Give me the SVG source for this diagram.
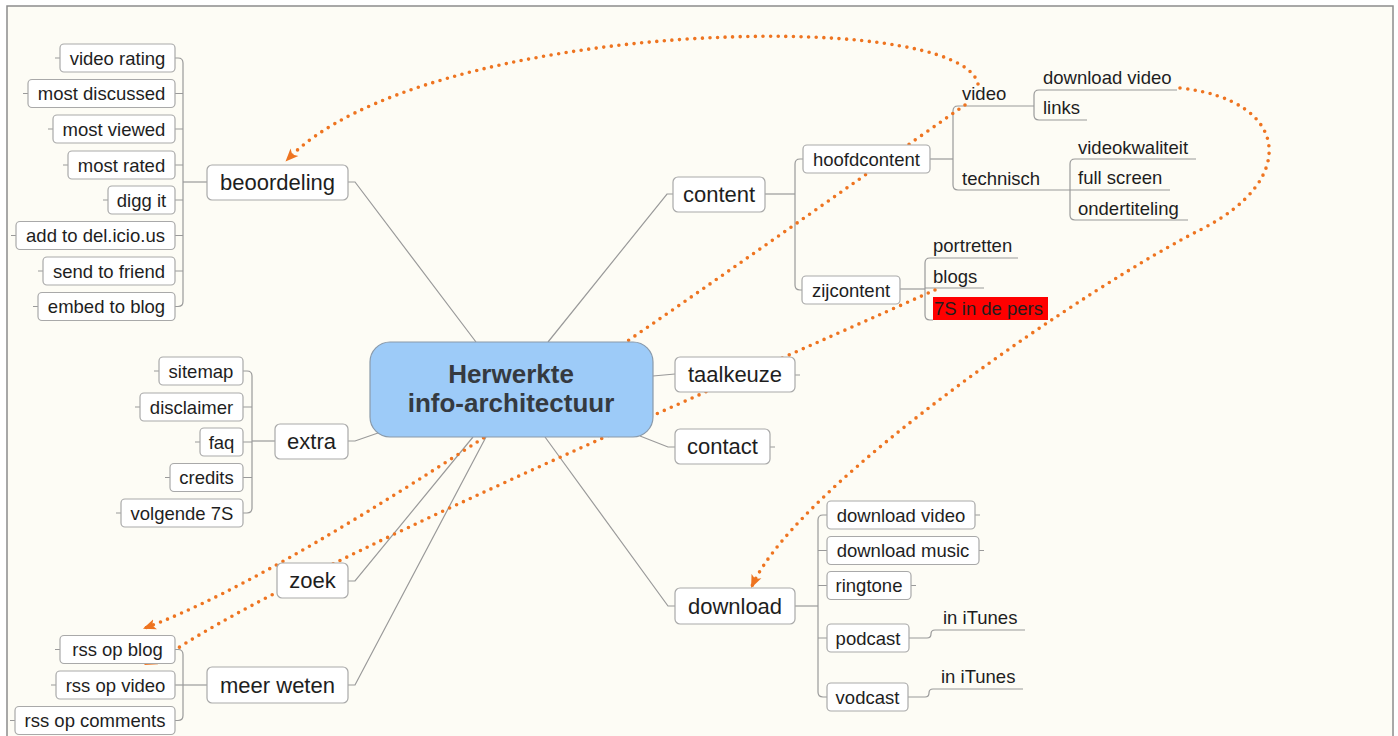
<svg xmlns="http://www.w3.org/2000/svg" width="1398" height="736" viewBox="0 0 1398 736">
<style>
.t{font-family:"Liberation Sans",Arial,sans-serif;fill:#1e1e1e}
.m{font-size:22px;text-anchor:middle}
.s{font-size:18.5px;text-anchor:middle}
.l{font-size:18.5px}
.box{fill:#fff;stroke:#a9a9a9;stroke-width:1.2}
.c{fill:none;stroke:#9a9a9a;stroke-width:1.2}
.r{fill:none;stroke:#ee7420;stroke-width:3.6;stroke-dasharray:0 7.6;stroke-linecap:round}
</style>
<defs>
<marker id="ah" viewBox="0 0 12 12" refX="10" refY="6" markerWidth="13" markerHeight="13" markerUnits="userSpaceOnUse" orient="auto">
<path d="M0,1 L12,6 L0,11 L3,6 z" fill="#ee7420"/>
</marker>
</defs>
<rect x="0" y="0" width="1398" height="736" fill="#ffffff"/>
<rect x="7" y="6" width="1386" height="745" fill="#fdfcf5" stroke="#8c8c8c" stroke-width="1.5"/>

<g id="connectors">
<!-- central branches -->
<path class="c" d="M348,182 H355 L476,342"/>
<path class="c" d="M673,194 H667 L548,342"/>
<path class="c" d="M653,376 L675,374"/>
<path class="c" d="M640,436 L668,447 H675"/>
<path class="c" d="M545,437 L668,606 H675"/>
<path class="c" d="M378,433 L355,441 H348"/>
<path class="c" d="M473,437 L355,581 H348"/>
<path class="c" d="M486,437 L355,685 H348"/>
<!-- beoordeling children -->
<path class="c" d="M207,182 H183"/>
<path class="c" d="M175,58 H178 Q183,58 183,63 V301.5 Q183,306.5 178,306.5 H175"/>
<path class="c" d="M175,93.5 H183 M175,129 H183 M175,165 H183 M175,200 H183 M175,235.5 H183 M175,271 H183"/>
<!-- extra children -->
<path class="c" d="M275,441 H252"/>
<path class="c" d="M243,371 H247 Q252,371 252,376 V508 Q252,513 247,513 H243"/>
<path class="c" d="M243,407 H252 M243,442 H252 M243,477.5 H252"/>
<!-- meer weten children -->
<path class="c" d="M207,685 H183"/>
<path class="c" d="M175,649.5 H178 Q183,649.5 183,654.5 V715.5 Q183,720.5 178,720.5 H175"/>
<path class="c" d="M175,685 H183"/>
<!-- left stubs on sub nodes -->
<path class="c" d="M55,58 H60 M23,93.5 H28 M48,129 H53 M63,165 H68 M103,200 H108 M11,235.5 H16 M38,271 H43 M33,306.5 H38"/>
<path class="c" d="M154,371 H159 M135,407 H140 M195,442 H200 M165,477.5 H170 M116,513 H121"/>
<path class="c" d="M55,649.5 H60 M51,685 H56 M10,720.5 H15"/>
<!-- right stubs -->
<path class="c" d="M795,375 H800 M770,447 H775 M975,515 H980 M979,550.5 H984 M911,585.5 H916"/>
<!-- content children -->
<path class="c" d="M765,194 H795"/>
<path class="c" d="M803,159 H800 Q795,159 795,164 V285 Q795,290 800,290 H803"/>
<!-- hoofdcontent children -->
<path class="c" d="M930,159 H953"/>
<path class="c" d="M1034,106 H958 Q953,106 953,111 V185 Q953,190 958,190 H1070"/>
<path class="c" d="M1177,90 H1039 Q1034,90 1034,95 V115 Q1034,120 1039,120 H1087"/>
<path class="c" d="M1196,159 H1075 Q1070,159 1070,164 V215 Q1070,220 1075,220 H1188"/>
<path class="c" d="M1070,190 H1170"/>
<!-- zijcontent children -->
<path class="c" d="M900,289 H925"/>
<path class="c" d="M1018,258 H930 Q925,258 925,263 V315 Q925,320 930,320 H933"/>
<path class="c" d="M925,288 H984"/>
<!-- download children -->
<path class="c" d="M795,606 H818"/>
<path class="c" d="M827,515 H823 Q818,515 818,520 V692 Q818,697 823,697 H827"/>
<path class="c" d="M818,550.5 H827 M818,585.5 H827 M818,638 H827"/>
<path class="c" d="M909,638 H927 Q931,638 931,634 Q931,630 935,630 H1025"/>
<path class="c" d="M908,697 H925 Q929,697 929,693 Q929,689 933,689 H1023"/>
<!-- relationship lines -->
<path class="r" d="M978,84 C960,5 420,20 287,160" marker-end="url(#ah)"/>
<path class="r" d="M1180,88 C1290,100 1300,180 1200,230 C1100,280 800,480 752,586" marker-end="url(#ah)"/>
<path class="r" d="M965,105 C700,290 330,560 145,628" marker-end="url(#ah)"/>
<path class="r" d="M935,290 C685,402 305,565 175,650 L146,664" marker-end="url(#ah)"/>
</g>

<g id="center">
<rect x="370" y="342" width="283" height="95" rx="20" fill="#9dcbf8" stroke="#8a9aaa" stroke-width="1.2"/>
<text class="t" x="511" y="383" font-size="26" font-weight="bold" text-anchor="middle" style="fill:#353a40">Herwerkte</text>
<text class="t" x="511" y="412" font-size="26" font-weight="bold" text-anchor="middle" style="fill:#353a40">info-architectuur</text>
</g>

<g id="beoordeling"><rect class="box" x="207" y="165" width="141" height="35" rx="5"/><text class="t m" x="277.5" y="190">beoordeling</text></g>
<g id="content"><rect class="box" x="673" y="177" width="92" height="35" rx="5"/><text class="t m" x="719" y="202">content</text></g>
<g id="taalkeuze"><rect class="box" x="675" y="357" width="120" height="35" rx="5"/><text class="t m" x="735" y="382">taalkeuze</text></g>
<g id="contact"><rect class="box" x="675" y="429" width="95" height="35" rx="5"/><text class="t m" x="722.5" y="454">contact</text></g>
<g id="download"><rect class="box" x="675" y="588" width="120" height="36" rx="5"/><text class="t m" x="735" y="614">download</text></g>
<g id="extra"><rect class="box" x="275" y="424" width="73" height="35" rx="5"/><text class="t m" x="311.5" y="449">extra</text></g>
<g id="zoek"><rect class="box" x="277" y="563" width="71" height="35" rx="5"/><text class="t m" x="312.5" y="588">zoek</text></g>
<g id="meer-weten"><rect class="box" x="207" y="667" width="141" height="36" rx="5"/><text class="t m" x="277.5" y="693">meer weten</text></g>

<g id="video-rating"><rect class="box" x="60" y="44" width="115" height="28" rx="4"/><text class="t s" x="117.5" y="64.5">video rating</text></g>
<g id="most-discussed"><rect class="box" x="28" y="79.5" width="147" height="28" rx="4"/><text class="t s" x="101.5" y="100">most discussed</text></g>
<g id="most-viewed"><rect class="box" x="53" y="115" width="122" height="28" rx="4"/><text class="t s" x="114" y="135.5">most viewed</text></g>
<g id="most-rated"><rect class="box" x="68" y="151" width="107" height="28" rx="4"/><text class="t s" x="121.5" y="171.5">most rated</text></g>
<g id="digg-it"><rect class="box" x="108" y="186" width="67" height="28" rx="4"/><text class="t s" x="141.5" y="206.5">digg it</text></g>
<g id="add-to-delicious"><rect class="box" x="16" y="221.5" width="159" height="28" rx="4"/><text class="t s" x="95.5" y="242">add to del.icio.us</text></g>
<g id="send-to-friend"><rect class="box" x="43" y="257" width="132" height="28" rx="4"/><text class="t s" x="109" y="277.5">send to friend</text></g>
<g id="embed-to-blog"><rect class="box" x="38" y="292.5" width="137" height="28" rx="4"/><text class="t s" x="106.5" y="313">embed to blog</text></g>

<g id="sitemap"><rect class="box" x="159" y="357" width="84" height="28" rx="4"/><text class="t s" x="201" y="377.5">sitemap</text></g>
<g id="disclaimer"><rect class="box" x="140" y="393" width="103" height="28" rx="4"/><text class="t s" x="191.5" y="413.5">disclaimer</text></g>
<g id="faq"><rect class="box" x="200" y="428" width="43" height="28" rx="4"/><text class="t s" x="221.5" y="448.5">faq</text></g>
<g id="credits"><rect class="box" x="170" y="463.5" width="73" height="28" rx="4"/><text class="t s" x="206.5" y="484">credits</text></g>
<g id="volgende-7s"><rect class="box" x="121" y="499" width="122" height="28" rx="4"/><text class="t s" x="182" y="519.5">volgende 7S</text></g>

<g id="rss-op-blog"><rect class="box" x="60" y="635.5" width="115" height="28" rx="4"/><text class="t s" x="117.5" y="656">rss op blog</text></g>
<g id="rss-op-video"><rect class="box" x="56" y="671" width="119" height="28" rx="4"/><text class="t s" x="115.5" y="691.5">rss op video</text></g>
<g id="rss-op-comments"><rect class="box" x="15" y="706.5" width="160" height="28" rx="4"/><text class="t s" x="95" y="727">rss op comments</text></g>

<g id="hoofdcontent"><rect class="box" x="803" y="145" width="127" height="28" rx="4"/><text class="t s" x="866.5" y="165.5">hoofdcontent</text></g>
<g id="zijcontent"><rect class="box" x="802" y="276" width="98" height="28" rx="4"/><text class="t s" x="851" y="296.5">zijcontent</text></g>
<g id="video"><text class="t l" x="962" y="100">video</text></g>
<g id="download-video-1"><text class="t l" x="1043" y="84">download video</text></g>
<g id="links"><text class="t l" x="1043" y="114">links</text></g>
<g id="technisch"><text class="t l" x="962" y="185">technisch</text></g>
<g id="videokwaliteit"><text class="t l" x="1078" y="154">videokwaliteit</text></g>
<g id="full-screen"><text class="t l" x="1078" y="184">full screen</text></g>
<g id="ondertiteling"><text class="t l" x="1078" y="215">ondertiteling</text></g>
<g id="portretten"><text class="t l" x="933" y="252">portretten</text></g>
<g id="blogs"><text class="t l" x="933" y="283">blogs</text></g>
<g id="7s-in-de-pers"><rect x="933" y="297" width="115" height="23" fill="#ff0000"/><text class="t l" x="934" y="315">7S in de pers</text></g>

<g id="download-video-2"><rect class="box" x="827" y="501" width="148" height="28" rx="4"/><text class="t s" x="901" y="521.5">download video</text></g>
<g id="download-music"><rect class="box" x="827" y="536.5" width="152" height="28" rx="4"/><text class="t s" x="903" y="557">download music</text></g>
<g id="ringtone"><rect class="box" x="827" y="571.5" width="84" height="28" rx="4"/><text class="t s" x="869" y="592">ringtone</text></g>
<g id="podcast"><rect class="box" x="827" y="624" width="82" height="28" rx="4"/><text class="t s" x="868" y="644.5">podcast</text></g>
<g id="vodcast"><rect class="box" x="827" y="683" width="81" height="28" rx="4"/><text class="t s" x="867.5" y="703.5">vodcast</text></g>
<g id="in-itunes-1"><text class="t l" x="943" y="624">in iTunes</text></g>
<g id="in-itunes-2"><text class="t l" x="941" y="683">in iTunes</text></g>
</svg>
